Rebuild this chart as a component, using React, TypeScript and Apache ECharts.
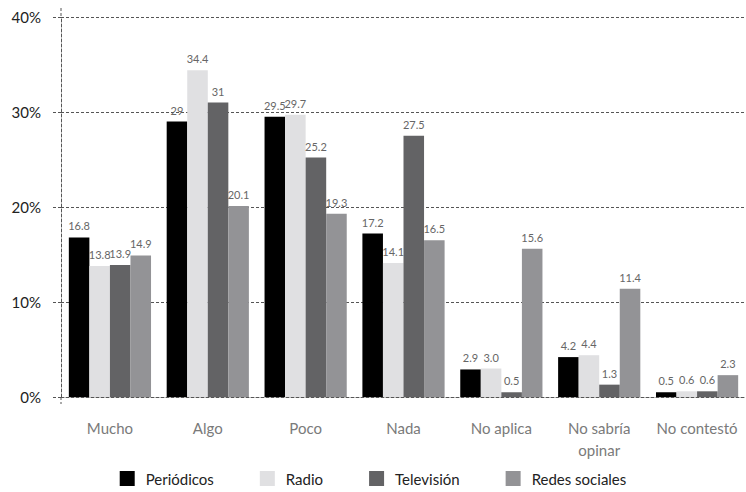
import React, { useEffect, useRef } from "react";
import * as echarts from "echarts";

const categories = ["Mucho", "Algo", "Poco", "Nada", "No aplica", "No sabría\nopinar", "No contestó"];
const periodicos = ["16.8", "29", "29.5", "17.2", "2.9", "4.2", "0.5"];
const radio = ["13.8", "34.4", "29.7", "14.1", "3.0", "4.4", "0.6"];
const television = ["13.9", "31", "25.2", "27.5", "0.5", "1.3", "0.6"];
const redes = ["14.9", "20.1", "19.3", "16.5", "15.6", "11.4", "2.3"];
const yTicks = [0, 10, 20, 30, 40];

const seriesDefs = [
  { name: "Periódicos", values: periodicos, color: "#000000" },
  { name: "Radio", values: radio, color: "#e0e0e2" },
  { name: "Televisión", values: television, color: "#636365" },
  { name: "Redes sociales", values: redes, color: "#939396" },
];

const FONT = "Lato, 'Noto Sans', sans-serif";

export default function App() {
  const ref = useRef<HTMLDivElement>(null);
  useEffect(() => {
    if (!ref.current) return;
    const chart = echarts.init(ref.current, undefined, { renderer: "svg" });
    const dash = { color: "#555", type: [3, 2] as any, width: 1 };
    chart.setOption({
      animation: false,
      textStyle: { fontFamily: FONT },
      grid: { left: 61, right: 0, top: 17, bottom: 95, containLabel: false },
      legend: {
        bottom: 1,
        left: "center",
        itemWidth: 15,
        itemHeight: 15,
        itemGap: 46,
        icon: "rect",
        textStyle: { fontFamily: FONT, fontSize: 15, color: "#222", padding: [0, 0, 0, 6] },
        data: seriesDefs.map((s) => s.name),
      },
      xAxis: {
        type: "category",
        data: categories,
        offset: 3,
        axisLine: { show: true, lineStyle: dash },
        axisTick: { show: false },
        axisLabel: {
          fontFamily: FONT,
          fontSize: 15,
          color: "#7a7a7a",
          margin: 17,
          lineHeight: 22,
          interval: 0,
        },
      },
      yAxis: {
        type: "value",
        min: yTicks[0],
        max: yTicks[yTicks.length - 1],
        interval: 10,
        axisLine: { show: true, lineStyle: dash },
        axisTick: { show: true, length: 8, lineStyle: dash },
        splitLine: { show: true, lineStyle: dash },
        axisLabel: {
          formatter: (v: number) => v + "%",
          fontFamily: FONT,
          fontSize: 15,
          color: "#222",
          margin: 20,
        },
      },
      graphic: [
        {
          type: "line",
          shape: { x1: 61, y1: 8, x2: 61, y2: 17 },
          style: { stroke: "#555", lineDash: [3, 2], lineWidth: 1 },
        },
        {
          type: "line",
          shape: { x1: 61, y1: 397, x2: 61, y2: 404 },
          style: { stroke: "#555", lineDash: [3, 2], lineWidth: 1 },
        },
      ],
      series: seriesDefs.map((s) => ({
        name: s.name,
        type: "bar",
        barGap: "0%",
        barCategoryGap: "16%",
        itemStyle: { color: s.color },
        label: {
          show: true,
          position: "top",
          distance: 6,
          fontFamily: FONT,
          fontSize: 11,
          color: "#666",
        },
        data: s.values.map((v) => ({ value: Number(v), label: { formatter: v } })),
      })),
    });
    return () => chart.dispose();
  }, []);
  return (
    <div
      ref={ref}
      style={{ position: "fixed", left: 0, top: 0, width: 746, height: 492, background: "#fff" }}
    />
  );
}
